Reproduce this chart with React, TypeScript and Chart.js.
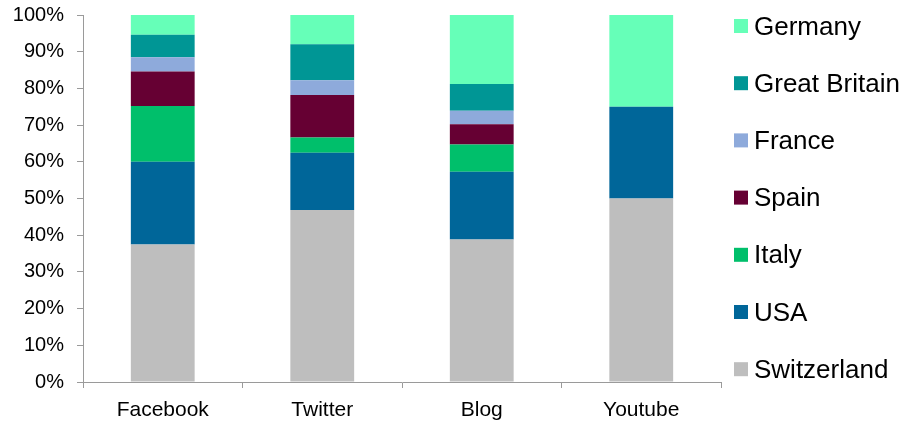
import React, { useEffect, useRef } from "react";
import { Chart, registerables } from "chart.js";

Chart.register(...registerables);

const categories = ["Facebook", "Twitter", "Blog", "Youtube"];
const switzerland = [37.5, 46.9, 38.8, 50];
const usa = [22.5, 15.6, 18.5, 25];
const italy = [15.2, 4.1, 7.4, 0];
const spain = [9.4, 11.6, 5.5, 0];
const france = [3.9, 4.0, 3.7, 0];
const greatBritain = [6.1, 9.8, 7.3, 0];
const germany = [5.4, 8.0, 18.8, 25];

const FONT = '"Liberation Sans", Arial, sans-serif';
const AXIS_GRAY = "#9a9a9a";

const legendPlugin = {
  id: "rightLegend",
  afterDraw(chart: any) {
    const ctx = chart.ctx;
    const ds = chart.data.datasets;
    const n = ds.length;
    ctx.save();
    ctx.font = `26px ${FONT}`;
    ctx.textBaseline = "alphabetic";
    ctx.textAlign = "left";
    for (let i = 0; i < n; i++) {
      const d = ds[n - 1 - i];
      const cy = 26 + i * 57.2;
      ctx.fillStyle = d.backgroundColor;
      ctx.fillRect(734, cy - 7, 14, 14);
      ctx.fillStyle = "#000";
      ctx.fillText(d.label, 754, cy + 8.5);
    }
    ctx.restore();
  },
};

export default function App() {
  const ref = useRef<HTMLCanvasElement | null>(null);
  useEffect(() => {
    if (!ref.current) return;
    const mk = (label: string, data: number[], color: string) => ({
      label,
      data,
      backgroundColor: color,
      borderWidth: 0,
      barPercentage: 0.4,
      categoryPercentage: 1,
    });
    const chart = new Chart(ref.current, {
      type: "bar",
      data: {
        labels: categories,
        datasets: [
          mk("Switzerland", switzerland, "#bebebe"),
          mk("USA", usa, "#006699"),
          mk("Italy", italy, "#00bf6b"),
          mk("Spain", spain, "#660033"),
          mk("France", france, "#8eaadb"),
          mk("Great Britain", greatBritain, "#009695"),
          mk("Germany", germany, "#66ffb8"),
        ],
      },
      options: {
        responsive: false,
        animation: false,
        layout: { padding: { top: 15, right: 183, left: 0, bottom: 0 } },
        plugins: { legend: { display: false }, tooltip: { enabled: false } },
        scales: {
          x: {
            stacked: true,
            grid: {
              offset: true,
              drawOnChartArea: false,
              drawTicks: true,
              tickLength: 6,
              color: AXIS_GRAY,
            },
            border: { display: true, color: AXIS_GRAY },
            ticks: { color: "#000", font: { family: FONT, size: 21 }, padding: 10 },
            afterFit: (s: any) => {
              s.height = 40;
              s.paddingLeft = 0;
              s.paddingRight = 0;
            },
          },
          y: {
            stacked: true,
            min: 0,
            max: 100,
            grid: {
              drawOnChartArea: false,
              drawTicks: true,
              tickLength: 6,
              color: AXIS_GRAY,
            },
            border: { display: true, color: AXIS_GRAY },
            ticks: {
              stepSize: 10,
              color: "#000",
              font: { family: FONT, size: 20 },
              padding: 13,
              callback: (v: any) => `${v}%`,
            },
            afterFit: (s: any) => {
              s.width = 83;
              s.paddingTop = 0;
              s.paddingBottom = 0;
            },
          },
        },
      },
      plugins: [legendPlugin],
    });
    return () => chart.destroy();
  }, []);
  return (
    <div style={{ position: "fixed", left: 0, top: 0, width: 904, height: 422, background: "#fff" }}>
      <canvas ref={ref} width={904} height={422} />
    </div>
  );
}
